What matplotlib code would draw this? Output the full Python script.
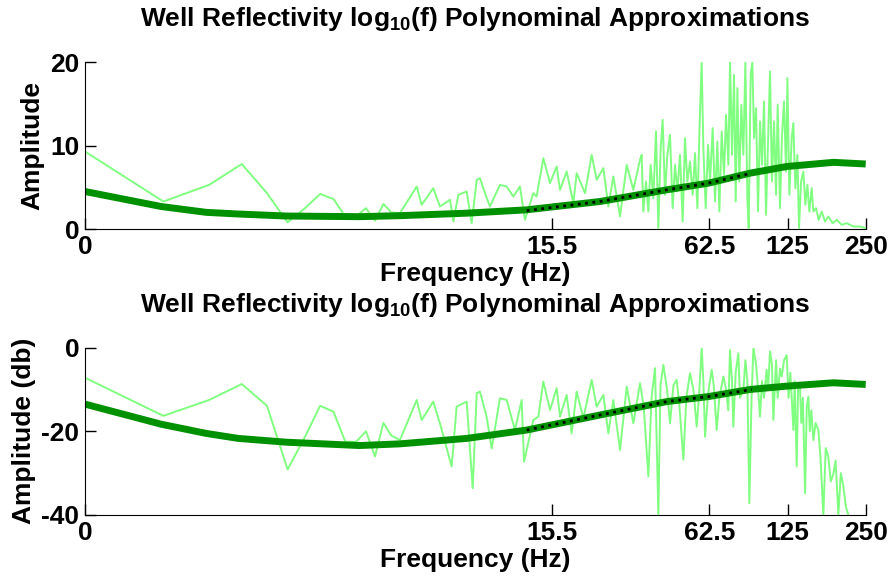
import numpy as np
import matplotlib
matplotlib.use('Agg')
import matplotlib.pyplot as plt

plt.rcParams['font.family'] = ['Liberation Sans', 'DejaVu Sans']
plt.rcParams['font.weight'] = 'bold'
plt.rcParams['mathtext.fontset'] = 'custom'
plt.rcParams['mathtext.rm'] = 'Liberation Sans:bold'
plt.rcParams['mathtext.it'] = 'Liberation Sans:bold'
plt.rcParams['mathtext.bf'] = 'Liberation Sans:bold'
plt.rcParams['axes.unicode_minus'] = False

# spectrum (Hz, amplitude)
freq_top = [0.25, 0.5, 0.75, 1.0, 1.25, 1.5, 1.75, 2.0, 2.25, 2.5, 2.75, 3.0, 3.25, 3.5, 3.75,
            4.05, 4.70, 4.91, 5.44, 5.77, 6.31, 6.50, 6.79, 7.31, 7.64, 7.99, 8.22, 8.60, 8.98,
            9.81, 10.41, 11.04, 11.71, 12.24, 13.18, 13.57, 14.40, 15.28, 16.20, 16.69, 17.70,
            18.78, 19.34, 20.82, 22.08, 23.08, 24.48, 25.59, 26.75, 28.38, 30.10, 31.92, 33.86,
            34.36, 34.87, 35.71, 36.45, 37.21, 38.10, 39.01, 39.82, 40.65, 41.38, 42.24, 43.12,
            44.15, 45.20, 46.15, 47.11, 48.23, 49.38, 50.41, 51.47, 52.70, 53.95, 55.08, 56.23,
            57.57, 58.42, 59.29, 60.53, 61.79, 62.89, 64.40, 65.74, 67.11, 68.31, 69.73, 71.19,
            72.46, 73.97, 75.07, 76.41, 77.77, 78.93, 80.10, 81.53, 82.98, 84.46, 85.97, 87.50,
            88.54, 90.12, 91.46, 92.82, 94.48, 96.16, 97.88, 99.63, 101.4, 103.2, 105.1, 106.9,
            108.8, 110.8, 112.8, 114.4, 116.8, 118.9, 121.0, 123.2, 124.7, 126.9, 129.5, 131.4,
            133.8, 136.2, 138.2, 140.7, 143.6, 146.2, 148.8, 151.4, 154.6, 156.9, 160.6, 164.5,
            168.9, 173.9, 179.1, 186.1, 192.9, 201.6, 210.7, 223.5, 237.1, 249.3]
amp_top = [9.3, 3.3, 5.3, 7.8, 4.3, 0.8, 2.5, 4.2, 3.6, 1.5, 1.5, 2.5, 1.0, 3.0, 2.0,
           1.9, 5.1, 2.9, 4.9, 2.7, 3.5, 0.9, 4.1, 4.5, 0.7, 5.9, 6.1, 4.3, 2.7,
           5.3, 5.1, 3.9, 5.1, 1.1, 4.3, 3.9, 8.5, 5.5, 7.5, 4.7, 6.9,
           3.1, 6.7, 4.3, 8.9, 5.9, 7.3, 2.7, 6.3, 1.5, 7.7, 4.7, 8.3,
           8.9, 2.1, 5.7, 2.1, 7.7, 3.7, 11.7, 0.1, 9.7, 13.1, 4.1, 8.9,
           11.3, 2.5, 7.7, 4.5, 8.9, 0.9, 10.9, 5.7, 8.1, 4.1, 9.1, 2.5,
           14.1, 20.0, 9.7, 2.5, 10.1, 5.7, 12.1, 3.3, 10.5, 2.1, 11.7, 6.5,
           13.7, 7.7, 20.0, 8.9, 18.5, 3.3, 16.9, 5.7, 14.9, 8.9, 20.0, 3.7,
           0.1, 18.5, 20.0, 10.9, 14.5, 2.1, 12.9, 7.7, 15.3, 1.7, 10.5, 18.9,
           5.7, 12.9, 4.1, 14.9, 2.5, 11.3, 15.3, 6.9, 18.1, 4.1, 10.9, 12.7,
           4.9, 8.9, 0.1, 5.7, 6.9, 2.9, 5.3, 2.1, 4.9, 2.1, 2.5, 1.1,
           2.1, 0.9, 1.5, 0.7, 1.1, 0.5, 0.7, 0.3, 0.3, 0.1]

# same spectrum in dB
freq_bot = [0.25, 0.5, 0.75, 1.0, 1.25, 1.5, 1.75, 2.0, 2.25, 2.5, 2.75, 3.0, 3.25, 3.5, 3.75,
            4.05, 4.70, 4.91, 5.44, 5.77, 6.40, 6.69, 7.31, 7.71, 7.99, 8.22, 8.72, 9.12, 9.81,
            10.41, 11.21, 11.89, 12.14, 13.18, 13.78, 14.40, 15.28, 16.20, 16.69, 17.70, 18.50,
            19.34, 20.51, 22.08, 23.08, 24.48, 25.59, 26.75, 28.38, 30.10, 31.92,
            33.86, 35.0, 36.45, 37.5, 38.67, 39.82, 40.6, 41.63, 43.0, 44.16, 45.5, 46.83,
            48.0, 49.69, 51.0, 52.70, 54.3, 55.91, 57.0, 58.44, 59.3, 60.19, 61.8, 63.83,
            65.0, 66.72, 68.3, 70.77, 72.5, 73.9, 75.06, 76.4, 77.30, 78.9, 80.79, 82.0,
            84.48, 86.0, 87.5, 89.07, 90.8, 92.30, 94.5, 96.2, 97.88, 99.6, 101.4, 103.8,
            105.1, 106.9, 108.8, 110.1, 112.8, 114.4, 116.8, 118.6, 121.0, 123.9,
            126.0, 128.0, 131.5, 133.0, 135.4, 137.0, 139.4, 141.0, 143.0, 145.8, 148.0,
            150.1, 152.0, 154.0, 156.9, 160.0, 164.0, 167.0, 171.4, 175.0, 179.1, 183.0, 187.3,
            191.0, 195.7, 200.0, 204.6, 209.0, 213.8, 220.0, 230.0, 249.3]
db_bot = [-7.2, -16.3, -12.5, -8.7, -13.9, -29.1, -21.3, -13.9, -15.3, -22.5, -22.5, -20.0, -26.0, -18.0, -21.0,
          -22.1, -12.5, -17.3, -12.9, -18.1, -28.4, -14.1, -12.9, -33.6, -10.9, -10.5, -16.5, -24.1, -12.1,
          -12.5, -19.7, -12.5, -27.3, -17.3, -16.5, -8.1, -14.9, -9.7, -16.5, -11.3, -20.5,
          -10.5, -16.9, -7.7, -14.1, -11.3, -20.5, -12.5, -24.5, -9.3, -18.1,
          -8.5, -14.0, -30.8, -12.0, -4.9, -40.0, -9.0, -4.1, -10.0, -18.1, -9.0, -7.7,
          -14.0, -26.8, -12.0, -6.1, -10.0, -18.9, -12.0, 0.0, -8.0, -21.3, -11.0, -5.3,
          -9.0, -19.7, -12.0, -6.9, -10.0, -15.0, -0.6, -8.0, -18.9, -6.0, -1.4, -12.0,
          -10.1, -3.0, -8.0, -37.2, -12.0, 0.0, -4.0, -10.0, -16.5, -8.0, -12.0, -5.3,
          -10.0, -0.9, -4.0, -17.3, -3.0, -12.0, -5.0, -6.9, -3.0, -1.8,
          -12.0, -6.0, -19.7, -8.0, -28.4, -10.0, -9.3, -18.0, -12.0, -34.8, -14.0,
          -11.7, -20.0, -15.0, -22.1, -18.0, -19.7, -26.0, -40.0, -24.0, -26.1, -32.0, -30.1,
          -27.0, -40.0, -30.0, -33.2, -38.0, -40.0, -43.0, -45.0, -48.0]

# polynomial fits
poly_freq = [0.25, 0.49, 0.73, 0.97, 1.48, 2.83, 4.05, 7.31, 12.43, 23.77, 42.87, 61.98, 89.60, 123.9, 187.3, 249.3]
poly_top = [4.5, 2.7, 2.0, 1.8, 1.56, 1.48, 1.6, 1.9, 2.3, 3.3, 4.7, 5.5, 6.7, 7.5, 8.0, 7.8]
poly_bot = [-13.5, -18.3, -20.5, -21.7, -22.6, -23.4, -23.0, -21.7, -19.7, -16.1, -12.9, -11.7, -10.0, -9.2, -8.4, -8.8]

# narrow-band fit (black dotted)
band_freq = [12.43, 23.77, 42.87, 61.98, 90.95]
band_top = [2.2, 3.3, 4.7, 5.5, 6.7]
band_bot = [-19.7, -16.1, -12.9, -11.7, -10.0]

tick_freqs = [0.25, 15.5, 62.5, 125, 250]
tick_labels = ['0', '15.5', '62.5', '125', '250']

title = r'Well Reflectivity log$_{10}$(f) Polynominal Approximations'
fs = 19

fig = plt.figure(figsize=(8.91, 5.77), dpi=100)
ax1 = fig.add_axes([0.0954, 0.6031, 0.8766, 0.2889])
ax2 = fig.add_axes([0.0954, 0.1075, 0.8766, 0.2900])

panels = [(ax1, freq_top, amp_top, poly_top, band_top, (0, 20), [0, 10, 20], 'Amplitude'),
          (ax2, freq_bot, db_bot, poly_bot, band_bot, (-40, 0), [-40, -20, 0], 'Amplitude (db)')]

for ax, fx, fy, py, by, ylim, yticks, ylab in panels:
  ax.plot(fx, fy, color='#80ff80', lw=1.4)
  ax.plot(poly_freq, py, color='#009100', lw=5, solid_capstyle='butt')
  ax.plot(band_freq, by, color='black', lw=2, ls=':')
  ax.set_xscale('log')
  ax.set_xlim(0.25, 250)
  ax.set_ylim(*ylim)
  ax.set_xticks(tick_freqs)
  ax.set_xticklabels(tick_labels)
  ax.xaxis.set_minor_locator(matplotlib.ticker.NullLocator())
  ax.set_yticks(yticks)
  ax.spines['top'].set_visible(False)
  ax.spines['right'].set_visible(False)
  ax.tick_params(direction='in', length=8, width=1, labelsize=fs, pad=4)
  ax.set_title(title, fontsize=fs, fontweight='bold', pad=26)
  ax.set_xlabel('Frequency (Hz)', fontsize=fs, fontweight='bold', labelpad=2.5)
  ax.set_ylabel(ylab, fontsize=fs, fontweight='bold', labelpad=4)

fig.savefig('out.png', dpi=100)
